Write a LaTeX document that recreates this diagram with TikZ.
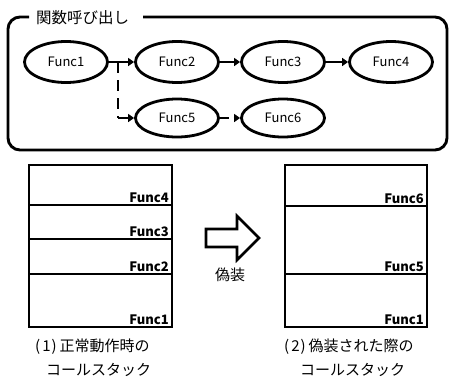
\documentclass[tikz,border=0pt]{standalone}
\usepackage{fontspec}
\setmainfont{Noto Sans CJK JP}
\usetikzlibrary{arrows.meta,shapes.geometric,shapes.arrows}
\begin{document}
\begin{tikzpicture}[x=1pt,y=-1pt,
  fn/.style={ellipse,draw,line width=2.8pt,minimum width=83pt,minimum height=41pt,inner sep=0pt,font=\fontsize{13}{13}\selectfont},
  conn/.style={line width=2.8pt,-{Triangle[length=6pt,width=8pt]}},
  stk/.style={line width=2.9pt},
  slab/.style={anchor=south east,inner sep=0pt,font=\fontsize{13}{13}\selectfont\bfseries},
  captext/.style={font=\fontsize{15}{15}\selectfont,inner sep=0pt,anchor=west}]
\useasboundingbox (0,0) rectangle (451,376);
% frame
\draw[line width=2.9pt,rounded corners=12pt] (29,17) -- (8,17) -- (8,150) -- (447,150) -- (447,17) -- (143,17);
\node[font=\fontsize{15.5}{15.5}\selectfont,anchor=west,inner sep=0pt] (title) at (36,18) {関数呼び出し};
% ellipses
\node[fn] (f1) at (66,62) {Func1};
\node[fn] (f2) at (177,62) {Func2};
\node[fn] (f3) at (283,62) {Func3};
\node[fn] (f4) at (391,62) {Func4};
\node[fn,minimum height=38pt] (f5) at (177,118) {Func5};
\node[fn,minimum height=38pt] (f6) at (283,118) {Func6};
\coordinate (br) at (118,62);
\coordinate (bd) at (118,118);
\draw[conn] (f1) -- (f2);
\draw[conn] (f2) -- (f3);
\draw[conn] (f3) -- (f4);
\draw[line width=2.8pt,dash pattern=on 11pt off 7pt] (br) -- (bd);
\draw[conn] (bd) -- (f5);
\draw[conn,dash pattern=on 9pt off 5pt] (f5) -- (f6);
% left stack
\draw[stk] (29,165) rectangle (172,327);
\draw[stk] (29,205) -- (172,205);
\draw[stk] (29,239) -- (172,239);
\draw[stk] (29,274) -- (172,274);
\node[slab] (l4) at (169,203) {Func4};
\node[slab] (l3) at (169,237) {Func3};
\node[slab] (l2) at (169,272) {Func2};
\node[slab] (l1) at (169,325) {Func1};
% right stack
\draw[stk] (285,165) rectangle (427,327);
\draw[stk] (285,206) -- (427,206);
\draw[stk] (285,274) -- (427,274);
\node[slab] (r6) at (424,204) {Func6};
\node[slab] (r5) at (424,272) {Func5};
\node[slab] (r1) at (424,325) {Func1};
% block arrow
\draw[line width=2.6pt,line join=miter] (206,229) -- (237,229) -- (237,216) -- (259,238) -- (237,260) -- (237,247) -- (206,247) -- cycle;
\node[font=\fontsize{15}{15}\selectfont,inner sep=0pt] (gis) at (230,275) {偽装};
% captions
\node[captext] (c1a) at (35,347) {(\hspace{2pt}1\hspace{1pt})\hspace{3pt}正常動作時の};
\node[captext] (c1b) at (46,370) {コールスタック};
\node[captext] (c2a) at (284,347) {(\hspace{2pt}2\hspace{1pt})\hspace{3pt}偽装された際の};
\node[captext] (c2b) at (300,370) {コールスタック};
\end{tikzpicture}
\end{document}
